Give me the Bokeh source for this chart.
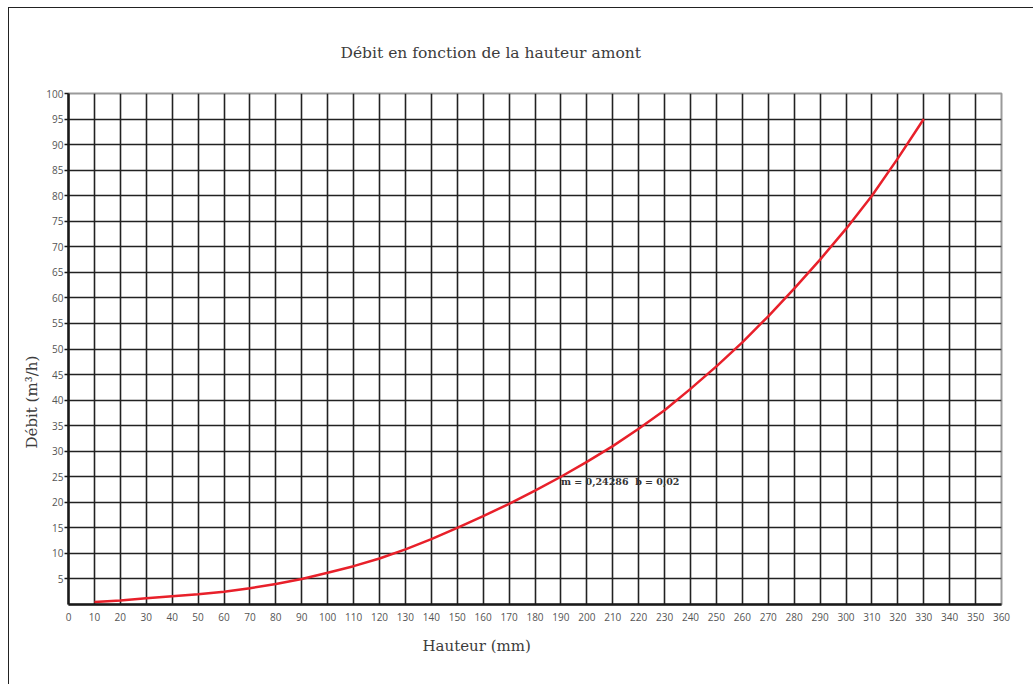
from bokeh.plotting import figure
from bokeh.models import Range1d, FixedTicker, Label, Title
from bokeh.embed import file_html
from bokeh.resources import INLINE

# Data
hauteur = [10, 20, 30, 40, 50, 60, 70, 80, 90, 100, 110, 120, 130, 140, 150, 160,
           170, 180, 190, 200, 210, 220, 230, 240, 250, 260, 270, 280, 290, 300,
           310, 320, 330]
debit = [0.5, 0.8, 1.2, 1.6, 2.0, 2.5, 3.2, 4.0, 5.0, 6.2, 7.5, 9.0, 10.8, 12.8,
         15.0, 17.3, 19.7, 22.3, 25.0, 27.9, 31.0, 34.4, 38.0, 42.2, 46.6, 51.3,
         56.4, 61.8, 67.5, 73.5, 80.0, 87.3, 95.0]
x_ticks = list(range(0, 361, 10))
y_ticks = list(range(5, 101, 5))
title_text = "Débit en fonction de la hauteur amont"
x_label = "Hauteur (mm)"
y_label = "Débit (m³/h)"
annotation = "m = 0,24286\u00a0 b = 0,02"

p = figure(width=1025, height=677, output_backend="svg", toolbar_location=None,
           x_range=Range1d(0, 360), y_range=Range1d(0, 100),
           min_border_left=59, min_border_right=33, min_border_top=85,
           min_border_bottom=81)
p.margin = (7, 0, 0, 8)
p.styles = {"border-left": "1px solid #222222", "border-top": "1px solid #222222"}
p.background_fill_color = "white"
p.border_fill_color = "white"
p.outline_line_color = "#9a9a9a"
p.outline_line_width = 2

tick_font = "Open Sans"
p.xaxis.ticker = FixedTicker(ticks=x_ticks)
p.yaxis.ticker = FixedTicker(ticks=y_ticks)
for ax in (p.xaxis[0], p.yaxis[0]):
    ax.major_label_text_font = tick_font
    ax.major_label_text_font_size = "10px"
    ax.major_label_text_color = "#555555"
    ax.minor_tick_line_color = None
    ax.axis_line_color = "#1a1a1a"
    ax.axis_line_width = 2.5
    ax.major_tick_line_color = "#1a1a1a"
    ax.major_tick_line_width = 1.5
    ax.major_tick_in = 0
p.xaxis.major_tick_out = 0
p.xaxis.major_label_standoff = 8
p.yaxis.major_tick_out = 4
p.yaxis.major_label_standoff = 1

p.xgrid.ticker = FixedTicker(ticks=x_ticks)
p.ygrid.ticker = FixedTicker(ticks=y_ticks)
for g in (p.xgrid[0], p.ygrid[0]):
    g.grid_line_color = "#222222"
    g.grid_line_width = 1.6
    g.grid_line_alpha = 1.0

p.line(hauteur, debit, line_color="#e8202a", line_width=2.5)

p.add_layout(Label(x=190, y=24, text=annotation, text_font="DejaVu Serif",
                   text_font_size="9.5px", text_font_style="bold",
                   text_color="#333333", text_baseline="middle"))

text_col = "#3c3c3c"
p.title = Title(text=title_text, align="left", offset=272, standoff=63,
                text_font="DejaVu Serif", text_font_size="15.5px",
                text_font_style="normal", text_color=text_col)
p.add_layout(Title(text=x_label, align="left", offset=354, standoff=22,
                   text_font="DejaVu Serif", text_font_size="15px",
                   text_font_style="normal", text_color=text_col), "below")
p.add_layout(Title(text=y_label, align="left", offset=156, standoff=5,
                   text_font="DejaVu Serif", text_font_size="15px",
                   text_font_style="normal", text_color=text_col), "left")

open("out.html", "w").write(file_html(p, INLINE))
